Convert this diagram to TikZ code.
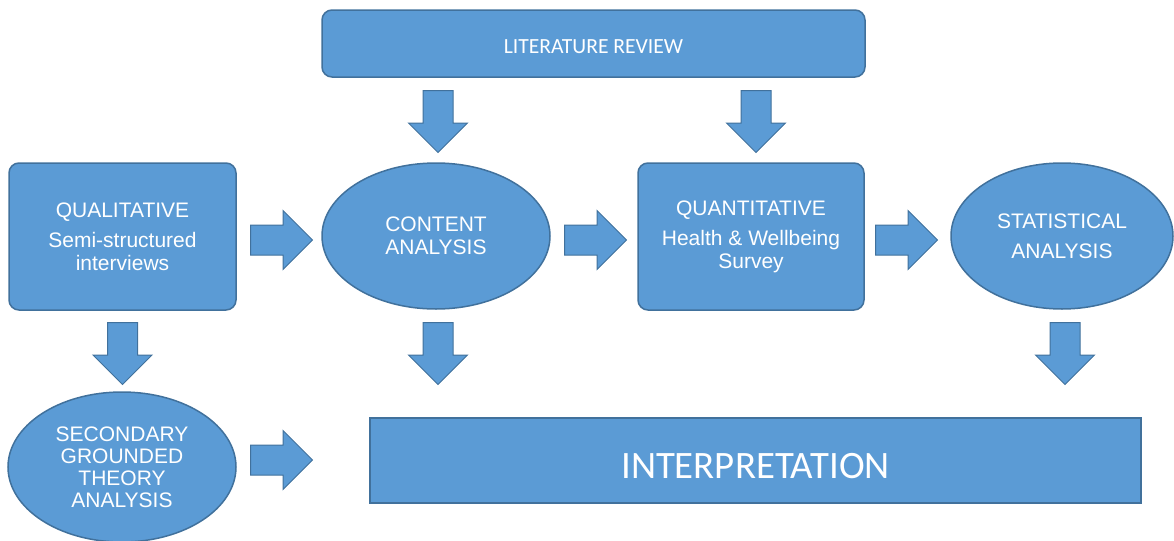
\documentclass[tikz,border=0pt]{standalone}
\usepackage{fontspec}
\setmainfont{Liberation Sans}
\newfontfamily\calfont{Carlito}
\usetikzlibrary{shapes.geometric,shapes.arrows}
\definecolor{boxblue}{HTML}{5B9BD5}
\definecolor{edgeblue}{HTML}{41719C}

\begin{document}
\begin{tikzpicture}[x=0.5pt,y=-0.5pt,
  every node/.style={text=white,font=\fontsize{10.5}{11.5}\selectfont,align=center,inner sep=0pt},
  box/.style={draw=edgeblue,fill=boxblue,line width=0.75pt,rectangle,rounded corners=5pt},
  oval/.style={draw=edgeblue,fill=boxblue,line width=0.75pt,ellipse},
  blockarrow/.style={draw=edgeblue,fill=boxblue,line width=0.5pt,single arrow,anchor=tail,
    inner xsep=0pt,inner ysep=7.25pt,minimum height=31pt,single arrow head extend=7.25pt}]
\useasboundingbox (0,0) rectangle (1174,541);

\node[box,minimum width=271.5pt,minimum height=33.5pt,font=\calfont\fontsize{10.8}{12}\selectfont] (litrev) at (593.5,43.5) {\raisebox{-1.75pt}[\height][0pt]{LITERATURE REVIEW}};
\node[box,minimum width=113.5pt,minimum height=73.5pt] (qual) at (122.5,236.5) {QUALITATIVE\\[3.5pt]Semi-structured\\interviews};
\node[oval,minimum width=114pt,minimum height=73pt] (content) at (436,236) {CONTENT\\ANALYSIS};
\node[box,minimum width=113pt,minimum height=73.5pt] (quant) at (751,236.5) {QUANTITATIVE\\[3.5pt]Health \& Wellbeing\\Survey};
\node[oval,minimum width=111pt,minimum height=73pt] (stat) at (1062,236) {STATISTICAL\\[3.5pt]ANALYSIS};
\node[oval,minimum width=114pt,minimum height=75pt,font=\fontsize{10.5}{11}\selectfont] (second) at (122,467) {SECONDARY\\GROUNDED\\THEORY\\ANALYSIS};
\node[draw=edgeblue,fill=boxblue,line width=0.75pt,minimum width=385.5pt,minimum height=42.5pt,font=\calfont\fontsize{19.4}{22}\selectfont] (interp) at (755.5,460.5) {\raisebox{-2.5pt}[\height][0pt]{INTERPRETATION}};

\foreach \name/\x/\y in {la1/438/90,la2/756/90,da1/122.5/322,da2/438/322,da3/1065/322}{
\node[blockarrow,rotate=-90] (\name) at (\x,\y) {};
}
\foreach \name/\x/\y in {ra1/250/240,ra2/564/240,ra3/875/240,ra4/250/460}{
\node[blockarrow] (\name) at (\x,\y) {};
}
\end{tikzpicture}
\end{document}
